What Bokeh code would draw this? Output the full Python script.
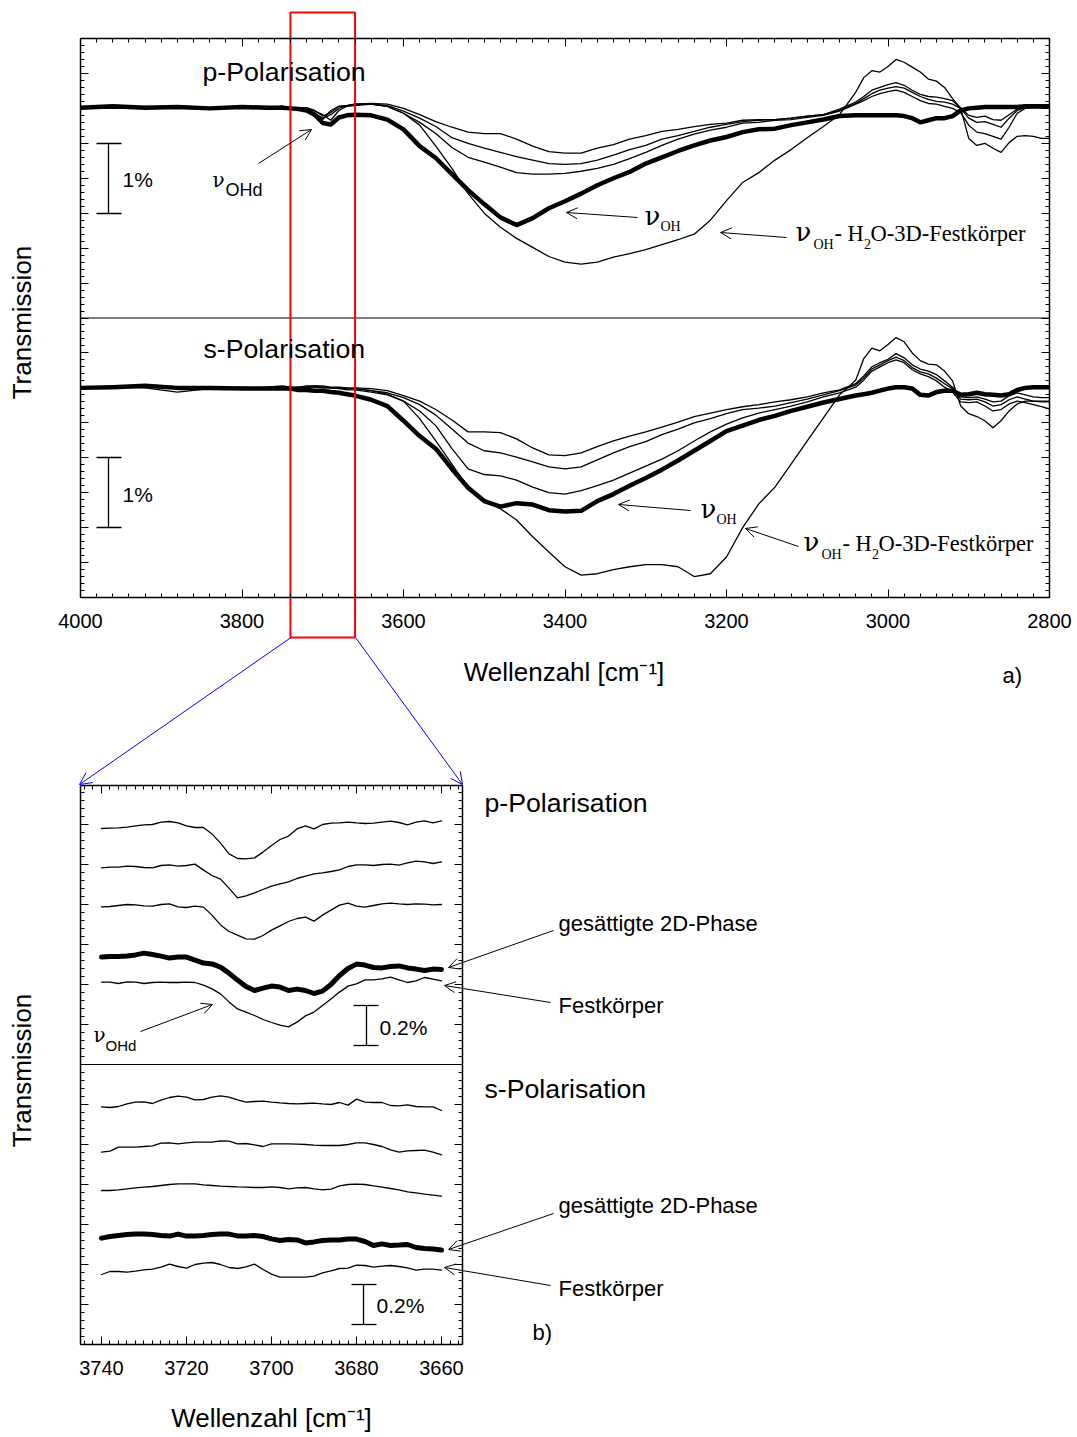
import math
from bokeh.plotting import figure
from bokeh.models import (Range1d, LinearAxis, SingleIntervalTicker, Label, Arrow,
                          OpenHead, CustomJSTickFormatter)
from bokeh.embed import file_html
from bokeh.resources import INLINE

SANS = "Liberation Sans"
SERIF = "Liberation Serif"
GREEK = "DejaVu Serif"

# ---------------- data: panel a (wavenumber grid, transmission change in %) ----------------
wn_a = [4000, 3960, 3920, 3880, 3840, 3800, 3770, 3750, 3740, 3730, 3720, 3710, 3700, 3690,
        3680, 3670, 3660, 3640, 3620, 3600, 3580, 3560, 3540, 3520, 3500, 3480, 3460, 3440,
        3420, 3400, 3380, 3360, 3340, 3320, 3300, 3280, 3260, 3240, 3220, 3200, 3180, 3160,
        3140, 3120, 3100, 3080, 3060, 3040, 3030, 3020, 3010, 3000, 2990, 2980, 2970, 2960,
        2950, 2940, 2930, 2920, 2910, 2900, 2890, 2880, 2870, 2860, 2850, 2840, 2830, 2820,
        2810, 2800]

a_p1 = [0.01, 0.03, 0.01, 0.00, 0.01, 0.03, 0.01, 0.03, 0.01, 0.01, 0.01, -0.03, -0.11, -0.06,
        0.03, 0.04, 0.06, 0.07, 0.06, 0.00, -0.09, -0.19, -0.27, -0.34, -0.36, -0.36, -0.44, -0.54,
        -0.62, -0.64, -0.64, -0.57, -0.52, -0.44, -0.39, -0.33, -0.30, -0.26, -0.23, -0.21, -0.17,
        -0.16, -0.16, -0.14, -0.11, -0.09, -0.01, 0.09, 0.17, 0.26, 0.30, 0.34, 0.37, 0.33, 0.26,
        0.20, 0.17, 0.16, 0.14, 0.11, 0.01, -0.10, -0.13, -0.11, -0.16, -0.17, -0.09, -0.01, 0.01,
        0.01, 0.01, 0.01]
a_p2 = [0.01, 0.01, 0.03, 0.01, 0.00, 0.01, 0.03, 0.01, 0.01, 0.00, 0.00, -0.07, -0.16, -0.03,
        0.03, 0.04, 0.06, 0.06, 0.04, -0.04, -0.14, -0.26, -0.42, -0.50, -0.57, -0.63, -0.69, -0.74,
        -0.79, -0.80, -0.79, -0.74, -0.67, -0.59, -0.53, -0.44, -0.39, -0.33, -0.27, -0.23, -0.19,
        -0.17, -0.16, -0.14, -0.11, -0.09, -0.03, 0.07, 0.14, 0.21, 0.26, 0.29, 0.31, 0.29, 0.23,
        0.17, 0.13, 0.10, 0.09, 0.06, 0.00, -0.14, -0.20, -0.19, -0.23, -0.27, -0.14, -0.03, 0.01,
        0.01, 0.01, 0.01]
a_p3 = [0.01, 0.00, 0.01, 0.03, 0.01, 0.00, 0.01, 0.03, 0.01, 0.01, 0.00, -0.04, -0.09, -0.17,
        -0.03, 0.03, 0.04, 0.06, 0.03, -0.07, -0.20, -0.36, -0.56, -0.70, -0.77, -0.84, -0.92, -0.94,
        -0.94, -0.93, -0.90, -0.86, -0.80, -0.72, -0.63, -0.53, -0.44, -0.37, -0.31, -0.27, -0.21,
        -0.20, -0.17, -0.16, -0.13, -0.10, -0.04, 0.06, 0.11, 0.17, 0.21, 0.24, 0.26, 0.23, 0.17,
        0.11, 0.07, 0.06, 0.03, 0.00, -0.06, -0.24, -0.34, -0.36, -0.40, -0.44, -0.27, -0.07, 0.00,
        0.01, 0.01, 0.01]
a_p_2d = [0.01, 0.03, 0.01, 0.02, 0.00, 0.02, 0.01, 0.01, 0.00, -0.01, -0.03, -0.09, -0.21, -0.23,
          -0.13, -0.10, -0.09, -0.10, -0.16, -0.30, -0.54, -0.71, -0.94, -1.17, -1.37, -1.56, -1.67,
          -1.57, -1.43, -1.33, -1.22, -1.10, -1.00, -0.91, -0.79, -0.70, -0.61, -0.53, -0.46, -0.41,
          -0.34, -0.30, -0.29, -0.24, -0.20, -0.16, -0.11, -0.10, -0.10, -0.10, -0.10, -0.10, -0.10,
          -0.11, -0.14, -0.20, -0.17, -0.14, -0.14, -0.11, -0.03, 0.00, 0.01, 0.02, 0.02, 0.02, 0.02,
          0.02, 0.03, 0.03, 0.03, 0.03]
a_p_solid = [0.01, 0.02, 0.01, 0.02, 0.01, 0.02, 0.02, 0.03, 0.01, 0.00, 0.00, -0.07, -0.14, -0.09,
             0.00, 0.04, 0.06, 0.06, 0.03, -0.07, -0.24, -0.54, -0.86, -1.22, -1.50, -1.70, -1.86,
             -1.99, -2.12, -2.20, -2.23, -2.20, -2.13, -2.08, -2.02, -1.95, -1.88, -1.80, -1.60,
             -1.32, -1.06, -0.92, -0.74, -0.59, -0.42, -0.26, -0.09, 0.23, 0.44, 0.54, 0.52, 0.60,
             0.70, 0.66, 0.59, 0.52, 0.42, 0.39, 0.30, 0.14, 0.00, -0.43, -0.53, -0.50, -0.57, -0.63,
             -0.49, -0.40, -0.39, -0.40, -0.43, -0.43]

a_s1 = [0.00, 0.01, 0.03, -0.01, 0.00, 0.00, 0.01, 0.03, 0.01, 0.01, 0.03, 0.03, 0.03, 0.01, 0.01,
        0.00, 0.00, -0.01, -0.04, -0.11, -0.19, -0.31, -0.46, -0.63, -0.63, -0.64, -0.73, -0.86,
        -0.96, -0.97, -0.93, -0.84, -0.76, -0.69, -0.63, -0.56, -0.49, -0.41, -0.36, -0.31, -0.27,
        -0.24, -0.20, -0.17, -0.13, -0.07, -0.03, 0.06, 0.17, 0.30, 0.36, 0.41, 0.49, 0.43, 0.33,
        0.27, 0.24, 0.19, 0.10, 0.01, -0.13, -0.14, -0.13, -0.16, -0.20, -0.19, -0.11, -0.07, -0.10,
        -0.13, -0.14, -0.14]
a_s2 = [0.00, 0.01, 0.00, -0.06, -0.01, 0.01, -0.01, 0.01, 0.00, 0.01, 0.01, 0.03, 0.01, 0.00, 0.00,
        -0.01, -0.01, -0.04, -0.07, -0.14, -0.24, -0.39, -0.59, -0.79, -0.90, -0.93, -0.99, -1.06,
        -1.13, -1.16, -1.13, -1.03, -0.93, -0.84, -0.77, -0.67, -0.59, -0.50, -0.44, -0.37, -0.31,
        -0.29, -0.26, -0.21, -0.16, -0.10, -0.04, 0.04, 0.14, 0.27, 0.33, 0.39, 0.44, 0.39, 0.29,
        0.23, 0.20, 0.14, 0.06, -0.01, -0.16, -0.17, -0.16, -0.20, -0.26, -0.24, -0.17, -0.13, -0.16,
        -0.19, -0.20, -0.20]
a_s3 = [0.00, 0.00, 0.01, 0.00, 0.00, 0.00, 0.00, 0.01, 0.00, 0.00, 0.01, 0.01, 0.00, 0.00, -0.01,
        -0.03, -0.03, -0.06, -0.10, -0.19, -0.33, -0.54, -0.87, -1.16, -1.24, -1.26, -1.32, -1.42,
        -1.50, -1.52, -1.47, -1.40, -1.32, -1.22, -1.12, -1.02, -0.90, -0.76, -0.63, -0.52, -0.43,
        -0.36, -0.31, -0.26, -0.20, -0.13, -0.07, 0.01, 0.11, 0.24, 0.30, 0.36, 0.40, 0.36, 0.26,
        0.20, 0.16, 0.10, 0.01, -0.06, -0.20, -0.21, -0.20, -0.26, -0.33, -0.31, -0.23, -0.19, -0.21,
        -0.24, -0.27, -0.30]
a_s_2d = [0.00, 0.01, 0.03, 0.00, 0.00, -0.01, -0.01, -0.01, -0.01, -0.03, -0.03, -0.04, -0.04,
          -0.06, -0.07, -0.09, -0.11, -0.17, -0.26, -0.47, -0.69, -0.87, -1.16, -1.43, -1.62, -1.70,
          -1.65, -1.67, -1.75, -1.77, -1.76, -1.62, -1.52, -1.40, -1.29, -1.17, -1.04, -0.90, -0.76,
          -0.62, -0.54, -0.46, -0.40, -0.33, -0.27, -0.21, -0.16, -0.11, -0.09, -0.07, -0.04, -0.01,
          0.01, 0.01, -0.01, -0.10, -0.11, -0.06, -0.04, -0.04, -0.10, -0.09, -0.07, -0.09, -0.10,
          -0.11, -0.09, -0.03, 0.00, 0.01, 0.01, 0.01]
a_s_solid = [0.00, 0.00, 0.01, 0.00, 0.01, 0.00, 0.00, 0.01, 0.00, 0.00, 0.01, 0.01, 0.01, 0.00,
             0.00, -0.01, -0.01, -0.04, -0.09, -0.19, -0.44, -0.76, -1.09, -1.43, -1.62, -1.73,
             -1.89, -2.13, -2.35, -2.56, -2.68, -2.66, -2.60, -2.56, -2.53, -2.53, -2.56, -2.70,
             -2.66, -2.42, -2.00, -1.66, -1.42, -1.09, -0.76, -0.43, -0.10, 0.11, 0.42, 0.57, 0.53,
             0.62, 0.72, 0.66, 0.50, 0.39, 0.34, 0.33, 0.24, 0.10, -0.26, -0.37, -0.41, -0.47, -0.57,
             -0.47, -0.33, -0.23, -0.19, -0.19, -0.19, -0.19]

# ---------------- data: panel b (zoom 3740-3660 cm-1, transmission in %) ----------------
wn_b = [3740, 3738, 3736, 3734, 3732, 3730, 3728, 3726, 3724, 3722,
        3720, 3718, 3716, 3714, 3712, 3710, 3708, 3706, 3704, 3702,
        3700, 3698, 3696, 3694, 3692, 3690, 3688, 3686, 3684, 3682,
        3680, 3678, 3676, 3674, 3672, 3670, 3668, 3666, 3664, 3662,
        3660]
b_p1 = [2.580, 2.582, 2.583, 2.587, 2.593, 2.598, 2.600, 2.612, 2.615, 2.608,
        2.593, 2.585, 2.585, 2.553, 2.507, 2.453, 2.430, 2.428, 2.433, 2.462,
        2.495, 2.525, 2.542, 2.578, 2.593, 2.578, 2.600, 2.607, 2.608, 2.612,
        2.608, 2.605, 2.607, 2.612, 2.617, 2.610, 2.598, 2.612, 2.618, 2.608,
        2.618]
b_p2 = [2.383, 2.387, 2.387, 2.392, 2.390, 2.385, 2.383, 2.395, 2.398, 2.392,
        2.395, 2.402, 2.372, 2.345, 2.327, 2.282, 2.233, 2.243, 2.258, 2.275,
        2.292, 2.303, 2.313, 2.330, 2.342, 2.353, 2.358, 2.365, 2.373, 2.390,
        2.398, 2.398, 2.395, 2.400, 2.402, 2.397, 2.408, 2.417, 2.413, 2.405,
        2.413]
b_p3 = [2.188, 2.190, 2.195, 2.200, 2.198, 2.193, 2.192, 2.200, 2.203, 2.188,
        2.185, 2.192, 2.187, 2.147, 2.098, 2.065, 2.047, 2.028, 2.027, 2.045,
        2.072, 2.093, 2.115, 2.130, 2.137, 2.117, 2.147, 2.172, 2.197, 2.207,
        2.192, 2.187, 2.195, 2.203, 2.207, 2.203, 2.200, 2.203, 2.202, 2.198,
        2.200]
b_p_2d = [1.937, 1.940, 1.940, 1.942, 1.948, 1.957, 1.950, 1.942, 1.932, 1.937,
          1.937, 1.922, 1.907, 1.903, 1.887, 1.857, 1.822, 1.790, 1.770, 1.782,
          1.792, 1.787, 1.770, 1.777, 1.770, 1.755, 1.767, 1.800, 1.845, 1.880,
          1.902, 1.897, 1.885, 1.883, 1.890, 1.893, 1.883, 1.877, 1.870, 1.877,
          1.875]
b_p_solid = [1.812, 1.812, 1.805, 1.813, 1.812, 1.805, 1.810, 1.812, 1.810, 1.810,
             1.812, 1.810, 1.797, 1.778, 1.753, 1.713, 1.678, 1.662, 1.645, 1.625,
             1.610, 1.597, 1.588, 1.612, 1.643, 1.662, 1.695, 1.728, 1.762, 1.792,
             1.803, 1.823, 1.823, 1.828, 1.837, 1.823, 1.810, 1.818, 1.835, 1.827,
             1.818]
b_s1 = [1.188, 1.185, 1.190, 1.203, 1.212, 1.213, 1.205, 1.222, 1.235, 1.242,
        1.237, 1.223, 1.225, 1.237, 1.243, 1.237, 1.223, 1.212, 1.215, 1.217,
        1.212, 1.208, 1.205, 1.203, 1.205, 1.207, 1.203, 1.200, 1.210, 1.197,
        1.227, 1.212, 1.210, 1.210, 1.195, 1.193, 1.198, 1.190, 1.188, 1.188,
        1.170]
b_s2 = [0.962, 0.967, 0.987, 0.987, 0.987, 0.990, 0.993, 1.007, 1.008, 1.003,
        1.008, 1.012, 1.012, 1.012, 1.018, 1.017, 1.003, 1.005, 0.998, 0.990,
        1.003, 1.003, 1.003, 1.002, 1.000, 0.997, 0.995, 0.995, 0.995, 1.000,
        1.008, 1.008, 1.000, 0.990, 0.973, 0.962, 0.968, 0.970, 0.972, 0.962,
        0.948]
b_s3 = [0.770, 0.770, 0.773, 0.778, 0.783, 0.787, 0.790, 0.795, 0.800, 0.803,
        0.803, 0.803, 0.798, 0.795, 0.792, 0.790, 0.788, 0.787, 0.785, 0.785,
        0.788, 0.785, 0.778, 0.783, 0.785, 0.778, 0.773, 0.777, 0.793, 0.800,
        0.802, 0.800, 0.793, 0.787, 0.780, 0.773, 0.763, 0.758, 0.752, 0.747,
        0.742]
b_s_2d = [0.532, 0.540, 0.545, 0.550, 0.552, 0.553, 0.550, 0.545, 0.542, 0.552,
          0.542, 0.543, 0.545, 0.550, 0.552, 0.552, 0.543, 0.542, 0.545, 0.540,
          0.528, 0.520, 0.525, 0.523, 0.508, 0.513, 0.520, 0.522, 0.523, 0.527,
          0.527, 0.515, 0.495, 0.503, 0.495, 0.497, 0.500, 0.485, 0.480, 0.477,
          0.472]
b_s_solid = [0.350, 0.365, 0.365, 0.362, 0.367, 0.373, 0.377, 0.387, 0.402, 0.390,
             0.382, 0.400, 0.407, 0.410, 0.400, 0.385, 0.380, 0.388, 0.402, 0.375,
             0.352, 0.337, 0.337, 0.337, 0.337, 0.342, 0.358, 0.368, 0.380, 0.382,
             0.397, 0.395, 0.387, 0.392, 0.395, 0.390, 0.383, 0.372, 0.377, 0.377,
             0.372]

a_x_limits = (4000, 2800)
a_y_limits = (0, 8)
b_x_limits = (3744.94, 3655.06)
b_y_limits = (0, 2.795)
a_divider, b_divider = 4.0, 1.4
zoom_window = (3740, 3660)
p_offset, s_offset = 7.0, 3.0

# ---------------- page geometry (pixels in the window) ----------------
CV_LEFT, CV_TOP, CV_W, CV_H = 0, 0, 1077, 1434
CV_RIGHT, CV_BOTTOM = CV_LEFT + CV_W, CV_TOP + CV_H
A_PX = (80, 1049); A_PY = (597, 38)      # panel a frame
B_PX = (80, 462); B_PY = (1344, 785)     # panel b frame
BASELINE_SHIFT = 0.36                    # label anchor correction (fraction of font size)


def lin(v0, p0, v1, p1):
    return lambda q: v0 + (q - p0) * (v1 - v0) / (p1 - p0)


ax_map = lin(a_x_limits[0], A_PX[0], a_x_limits[1], A_PX[1])
ay_map = lin(a_y_limits[0], A_PY[0], a_y_limits[1], A_PY[1])
bx_map = lin(b_x_limits[0], B_PX[0], b_x_limits[1], B_PX[1])
by_map = lin(b_y_limits[0], B_PY[0], b_y_limits[1], B_PY[1])


def P(px, py):
    """window pixel -> default (panel a) coordinates, used for annotations"""
    return ax_map(px), ay_map(py)


p = figure(frame_width=CV_W, frame_height=CV_H,
           x_range=Range1d(ax_map(CV_LEFT), ax_map(CV_RIGHT)),
           y_range=Range1d(ay_map(CV_BOTTOM), ay_map(CV_TOP)),
           min_border=0, x_axis_location=None, y_axis_location=None,
           output_backend="svg", toolbar_location=None, title=None,
           background_fill_color="white", border_fill_color="white",
           outline_line_color=None)
p.extra_x_ranges = {"bx": Range1d(bx_map(CV_LEFT), bx_map(CV_RIGHT))}
p.extra_y_ranges = {"by": Range1d(by_map(CV_BOTTOM), by_map(CV_TOP))}
p.xgrid.visible = False
p.ygrid.visible = False


def add_axis(side, interval, minor, bounds, loc, labels, xr="default", yr="default"):
    ax = LinearAxis(ticker=SingleIntervalTicker(interval=interval, num_minor_ticks=minor),
                    bounds=bounds, fixed_location=loc, x_range_name=xr, y_range_name=yr)
    ax.major_tick_in = 8
    ax.major_tick_out = 0
    ax.minor_tick_in = 4
    ax.minor_tick_out = 0
    ax.axis_line_color = "black"
    ax.axis_line_width = 1.5
    ax.major_tick_line_color = "black"
    ax.minor_tick_line_color = "black"
    ax.major_tick_line_width = 1
    ax.minor_tick_line_width = 1
    ax.major_label_text_font = SANS
    ax.major_label_text_font_size = "20px"
    ax.major_label_text_color = "black"
    if labels:
        ax.major_label_standoff = 16
    else:
        ax.formatter = CustomJSTickFormatter(code="return ''")
        ax.major_label_standoff = 0
    p.add_layout(ax, side)
    return ax


axb = sorted(a_x_limits)
ayb = sorted(a_y_limits)
add_axis("below", 200, 10, axb, a_y_limits[0], True)
add_axis("above", 200, 10, axb, a_y_limits[1], False)
add_axis("left", 0.5, 5, ayb, a_x_limits[0], False)
add_axis("right", 0.5, 5, ayb, a_x_limits[1], False)

bxb = sorted(b_x_limits)
byb = sorted(b_y_limits)
add_axis("below", 20, 10, bxb, b_y_limits[0], True, "bx", "by")
add_axis("above", 20, 10, bxb, b_y_limits[1], False, "bx", "by")
add_axis("left", 0.2, 5, byb, b_x_limits[0], False, "bx", "by")
add_axis("right", 0.2, 5, byb, b_x_limits[1], False, "bx", "by")


def add_text(px, py, text, size, font=SANS, align="left", vertical=False):
    """px, py: window pixel of the text start (or centre) on its baseline"""
    if vertical:
        x, y = P(px - BASELINE_SHIFT * size, py)
        angle = math.pi / 2
    else:
        x, y = P(px, py - BASELINE_SHIFT * size)
        angle = 0.0
    p.add_layout(Label(x=x, y=y, text=text, text_font=font, text_font_size=f"{size}px",
                       text_color="black", text_baseline="alphabetic", text_align=align,
                       angle=angle))


def add_arrow(p0, p1, color="black", head=True, lw=1.0, size=11):
    x0, y0 = P(*p0)
    x1, y1 = P(*p1)
    p.add_layout(Arrow(x_start=x0, y_start=y0, x_end=x1, y_end=y1, line_color=color,
                       line_width=lw,
                       end=OpenHead(size=size, line_color=color, line_width=lw) if head else None))


def add_bar(px, py0, py1, cx0, cx1):
    x, y0 = P(px, py0)
    _, y1 = P(px, py1)
    c0 = ax_map(cx0)
    c1 = ax_map(cx1)
    p.segment(x0=[x, c0, c0], y0=[y0, y0, y1], x1=[x, c1, c1], y1=[y1, y0, y1],
              line_color="black", line_width=1.3)


# ================= panel a =================
for vals, off, lw in [(a_p1, p_offset, 1.3), (a_p2, p_offset, 1.3), (a_p3, p_offset, 1.3),
                      (a_p_solid, p_offset, 1.3), (a_p_2d, p_offset, 4.5),
                      (a_s1, s_offset, 1.3), (a_s2, s_offset, 1.3), (a_s3, s_offset, 1.3),
                      (a_s_solid, s_offset, 1.3), (a_s_2d, s_offset, 4.5)]:
    p.line(wn_a, [off + v for v in vals], line_color="black", line_width=lw, line_join="round")
p.segment(x0=[a_x_limits[0]], y0=[a_divider], x1=[a_x_limits[1]], y1=[a_divider],
          line_color="black", line_width=1.2)

add_text(31, 322, "Transmission", 26, align="center", vertical=True)
add_text(563.5, 681, "Wellenzahl [cm\u207b\u00b9]", 26, align="center")
add_text(202, 81, "p-Polarisation", 26.7)
add_text(203, 358, "s-Polarisation", 26.7)
add_bar(108, 143, 213, 96, 121)
add_bar(108, 457, 527, 96, 121)
add_text(122, 187, "1%", 21)
add_text(122, 502, "1%", 21)
add_text(1002, 683, "a)", 22)

# nu_OHd
add_text(212, 187, "\u03bd", 20, GREEK)
add_text(225, 196, "OHd", 18)
add_arrow((258, 163), (311, 129))
# nu_OH (p)
add_text(644, 225, "\u03bd", 26, GREEK)
add_text(660, 231, "OH", 14, SERIF)
add_arrow((637, 217), (566, 212))
# nu_OH - H2O-3D-Festkoerper (p)
add_text(795, 241, "\u03bd", 26, GREEK)
add_text(813, 249, "OH", 14, SERIF)
add_text(834, 241, "- H", 22.5, SERIF)
add_text(863.5, 249, "2", 14, SERIF)
add_text(870, 241, "O-3D-Festk\u00f6rper", 22.5, SERIF)
add_arrow((786, 237), (720, 232))
# nu_OH (s)
add_text(700, 518, "\u03bd", 26, GREEK)
add_text(716, 524, "OH", 14, SERIF)
add_arrow((690, 510), (618, 504))
# nu_OH - H2O-3D-Festkoerper (s)
add_text(803, 551, "\u03bd", 26, GREEK)
add_text(821, 559, "OH", 14, SERIF)
add_text(842, 551, "- H", 22.5, SERIF)
add_text(871.5, 559, "2", 14, SERIF)
add_text(878, 551, "O-3D-Festk\u00f6rper", 22.5, SERIF)
add_arrow((798, 546), (745, 528))

# zoom window marker and connectors to panel b
_, ytop = P(0, 12)
_, ybot = P(0, 637)
p.quad(left=[zoom_window[0]], right=[zoom_window[1]], top=[ytop], bottom=[ybot],
       fill_color=None, line_color="#ff0000", line_width=2)
add_arrow((290.5, 637), (79, 784), color="#0000ff", head=True, size=12)
add_arrow((355, 637), (462, 784), color="#0000ff", head=True, size=12)

# ================= panel b =================
for vals, lw in [(b_p1, 1.3), (b_p2, 1.3), (b_p3, 1.3), (b_p_solid, 1.3), (b_p_2d, 5),
                 (b_s1, 1.3), (b_s2, 1.3), (b_s3, 1.3), (b_s_solid, 1.3), (b_s_2d, 5)]:
    p.line(wn_b, vals, line_color="black", line_width=lw, line_join="round", line_cap="round",
           x_range_name="bx", y_range_name="by")
p.segment(x0=[b_x_limits[0]], y0=[b_divider], x1=[b_x_limits[1]], y1=[b_divider],
          line_color="black", line_width=1.2, x_range_name="bx", y_range_name="by")

add_text(31, 1070, "Transmission", 26, align="center", vertical=True)
add_text(271, 1427, "Wellenzahl [cm\u207b\u00b9]", 26, align="center")
add_text(484, 812, "p-Polarisation", 26.7)
add_text(484, 1098, "s-Polarisation", 26.7)
add_text(558, 931, "ges\u00e4ttigte 2D-Phase", 22)
add_text(558, 1013, "Festk\u00f6rper", 22)
add_text(558, 1213, "ges\u00e4ttigte 2D-Phase", 22)
add_text(558, 1296, "Festk\u00f6rper", 22)
add_arrow((553, 930), (448, 967))
add_arrow((550, 1002), (444, 985))
add_arrow((553, 1213), (448, 1249))
add_arrow((550, 1285), (444, 1267))
add_bar(366, 1005, 1045, 353, 378)
add_bar(363, 1284, 1324, 351, 376)
add_text(379, 1035, "0.2%", 21)
add_text(376, 1313, "0.2%", 21)
add_text(532, 1340, "b)", 22)
add_text(93, 1042, "\u03bd", 20, GREEK)
add_text(105, 1050, "OHd", 15)
add_arrow((140, 1031), (212, 1004))

open("out.html", "w").write(file_html(p, INLINE))
